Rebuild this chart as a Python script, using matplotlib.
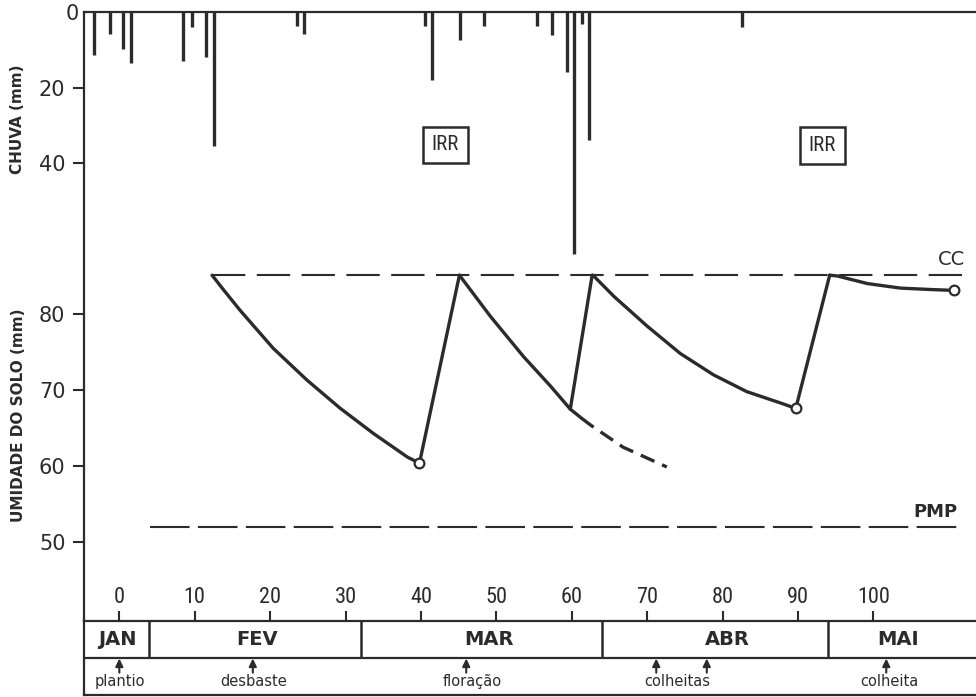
import matplotlib
matplotlib.use("Agg")
import matplotlib.pyplot as plt
from matplotlib import font_manager as fm
import matplotlib.transforms as mtransforms

# ---------------- data ----------------
rain_day = [-3.4, -1.3, 0.5, 1.5, 8.5, 9.7, 11.5, 12.6, 23.5, 24.5,
            40.5, 41.5, 45.2, 48.4, 55.4, 57.4, 59.4, 60.3, 61.4, 62.3, 82.6]
rain_mm = [11.5, 5.7, 9.7, 13.4, 13.1, 4.1, 11.8, 35.6, 3.8, 5.7,
           3.8, 17.9, 7.5, 3.8, 3.8, 6.0, 16.0, 64.2, 3.3, 34.0, 4.1]

cc_level = 85.1
pmp_level = 52.0
cc_days = [12.3, 112.4]
pmp_days = [4.1, 111.3]

dry1_day = [12.3, 13.8, 16.0, 20.4, 24.9, 29.3, 33.7, 38.2, 39.8]
dry1_mm = [85.1, 83.2, 80.5, 75.5, 71.3, 67.6, 64.3, 61.2, 60.4]
rise1_day = [39.8, 45.1]
rise1_mm = [60.4, 85.1]
dry2_day = [45.1, 49.2, 53.6, 57.2, 59.8, 61.3]
dry2_mm = [85.1, 79.7, 74.4, 70.5, 67.5, 66.3]
dry2_proj_day = [61.3, 62.5, 66.8, 72.6]
dry2_proj_mm = [66.3, 65.4, 62.5, 59.9]
rise2_day = [59.8, 62.7]
rise2_mm = [67.5, 85.1]
dry3_day = [62.8, 65.6, 70.0, 74.4, 78.8, 83.2, 87.7, 89.7]
dry3_mm = [85.1, 82.3, 78.4, 74.8, 72.0, 69.8, 68.3, 67.6]
rise3_day = [89.7, 94.2]
rise3_mm = [67.6, 85.1]
dry4_day = [94.2, 95.2, 99.2, 103.6, 108.0, 110.7]
dry4_mm = [85.1, 85.0, 84.0, 83.4, 83.2, 83.1]
marker_day = [39.8, 89.7, 110.7]
marker_mm = [60.4, 67.6, 83.1]

irr_day = [43.2, 93.2]
irr_rain = [35.2, 35.3]

day_ticks = [0, 10, 20, 30, 40, 50, 60, 70, 80, 90, 100]
rain_ticks = [0, 20, 40]
soil_ticks = [50, 60, 70, 80]

month_edges = [4, 32, 64, 94]
month_names = ["JAN", "FEV", "MAR", "ABR", "MAI"]
month_pos = [-0.3, 18.3, 49.0, 80.6, 103.2]

event_arrow_day = [0, 17.7, 46.0, 71.2, 77.9, 101.7]
event_names = ["plantio", "desbaste", "floração", "colheitas", "colheita"]
event_text_day = [0.1, 17.8, 46.8, 74.0, 102.1]

# ---------------- fonts ----------------
names = {f.name for f in fm.fontManager.ttflist}
num_font = None
for cand in ["Liberation Sans Narrow", "Roboto Condensed", "DejaVu Sans Condensed",
             "Open Sans Condensed"]:
    if cand in names:
        num_font = dict(fontfamily=cand)
        num_size = 16
        break
if num_font is None:
    cond = [f for f in fm.fontManager.ttflist
            if f.name == "DejaVu Sans" and str(f.stretch) in ("condensed", "semi-condensed")]
    if cond:
        num_font = dict(fontfamily="DejaVu Sans", fontstretch="condensed")
        num_size = 15
    else:
        num_font = dict(fontfamily="DejaVu Sans")
        num_size = 13

C = "#2b2b2b"
W, H = 976, 697
XL = (-4.75, 113.6)

fig = plt.figure(figsize=(W / 100, H / 100), dpi=100)
fig.patch.set_facecolor("white")

def fx(px):
    return px / W

def fy(py):
    return 1 - py / H

top_px, bot_px, left_px = 12.0, 620.5, 83.5
ax = fig.add_axes([fx(left_px), fy(bot_px), fx(W - left_px), (bot_px - top_px) / H])
ax.set_xlim(*XL)
ax.set_ylim((bot_px - 11.5) / 3.78, 0)
ax.set_facecolor("none")
for s in ("right", "bottom"):
    ax.spines[s].set_visible(False)
for s in ("left", "top"):
    ax.spines[s].set_linewidth(1.6)
    ax.spines[s].set_color(C)
ax.set_xticks([])

ax2 = ax.twinx()
ax2.set_ylim(80 - (bot_px - 314) / 7.61, 80 + (314 - top_px) / 7.61)
ax2.yaxis.tick_left()
for s in ax2.spines.values():
    s.set_visible(False)
ax2.set_xlim(*XL)

for a, ticks in ((ax, rain_ticks), (ax2, soil_ticks)):
    a.set_yticks(ticks)
    a.tick_params(axis="y", which="major", left=True, right=False, labelleft=True,
                  labelright=False, direction="out", length=8, width=1.5,
                  pad=5, labelsize=15, colors=C)

# rain bars
ax.vlines(rain_day, 0, rain_mm, colors=C, linewidth=2.4)

# CC / PMP reference lines
ax2.plot(cc_days, [cc_level, cc_level], color=C, lw=1.5, dashes=(16, 5.5))
ax2.plot(pmp_days, [pmp_level, pmp_level], color=C, lw=1.5, dashes=(19, 4))
ax2.text(110.4, 87.1, "CC", ha="center", va="center", fontsize=14, color=C)
ax2.text(108.2, 54.0, "PMP", ha="center", va="center", fontsize=13,
         fontweight="bold", color=C)

lw = 2.4
for d, m in ((dry1_day, dry1_mm), (rise1_day, rise1_mm), (dry2_day, dry2_mm),
             (rise2_day, rise2_mm), (dry3_day, dry3_mm), (rise3_day, rise3_mm),
             (dry4_day, dry4_mm)):
    ax2.plot(d, m, color=C, lw=lw, solid_joinstyle="round", solid_capstyle="round")
ax2.plot(dry2_proj_day, dry2_proj_mm, color=C, lw=lw, dashes=(4.5, 2.5))
ax2.plot(marker_day, marker_mm, ls="none", marker="o", ms=7, mfc="white",
         mec=C, mew=1.6, zorder=5)

for d, r in zip(irr_day, irr_rain):
    ax.text(d, r, "IRR", ha="center", va="center", fontsize=num_size - 1, color=C,
            bbox=dict(boxstyle="square,pad=0.42", fc="white", ec=C, lw=1.8), **num_font)

# y labels
ax.set_ylabel("CHUVA (mm)", fontsize=11, fontweight="bold", color=C, va="center")
ax.yaxis.set_label_coords(fx(18), fy(119), transform=fig.transFigure)
ax2.yaxis.set_label_position("left")
ax2.set_ylabel("UMIDADE DO SOLO (mm)", fontsize=11, fontweight="bold", color=C,
               va="center")
ax2.yaxis.set_label_coords(fx(19), fy(415), transform=fig.transFigure)

# shift the "0" rain label to the right and hide its tick mark
t0 = ax.yaxis.get_major_ticks()[0]
t0.tick1line.set_visible(False)
t0.label1.set_transform(t0.label1.get_transform() +
                        mtransforms.ScaledTranslation(13 / 100, 0, fig.dpi_scale_trans))

# ---------------- band axes (days / months / events) ----------------
bx = fig.add_axes([fx(left_px), fy(695), fx(W - left_px), (695 - bot_px) / H])
bx.set_xlim(*XL)
bx.set_ylim(0, 2)
bx.set_facecolor("white")
bx.spines["right"].set_visible(False)
for s in ("left", "top", "bottom"):
    bx.spines[s].set_linewidth(1.6)
    bx.spines[s].set_color(C)
bx.set_yticks([])
bx.xaxis.tick_top()
bx.set_xticks(day_ticks, [str(t) for t in day_ticks], fontsize=num_size, color=C,
              **num_font)
bx.tick_params(axis="x", direction="out", length=7.5, width=1.5, pad=1.5, colors=C)

bx.axhline(1, color=C, lw=1.6)
bx.vlines(month_edges, 1, 2, colors=C, lw=1.8)
for name, p in zip(month_names, month_pos):
    bx.text(p, 1.5, name, ha="center", va="center", fontsize=14, fontweight="bold",
            color=C)
for d in event_arrow_day:
    bx.annotate("", xy=(d, 0.98), xytext=(d, 0.6),
                arrowprops=dict(arrowstyle="-|>,head_width=0.22,head_length=0.45",
                                lw=1.5, color=C, shrinkA=0, shrinkB=0))
for name, p in zip(event_names, event_text_day):
    bx.text(p, 0.36, name, ha="center", va="center", fontsize=10.5, color=C)

fig.savefig("out.png", dpi=100, facecolor="white")
